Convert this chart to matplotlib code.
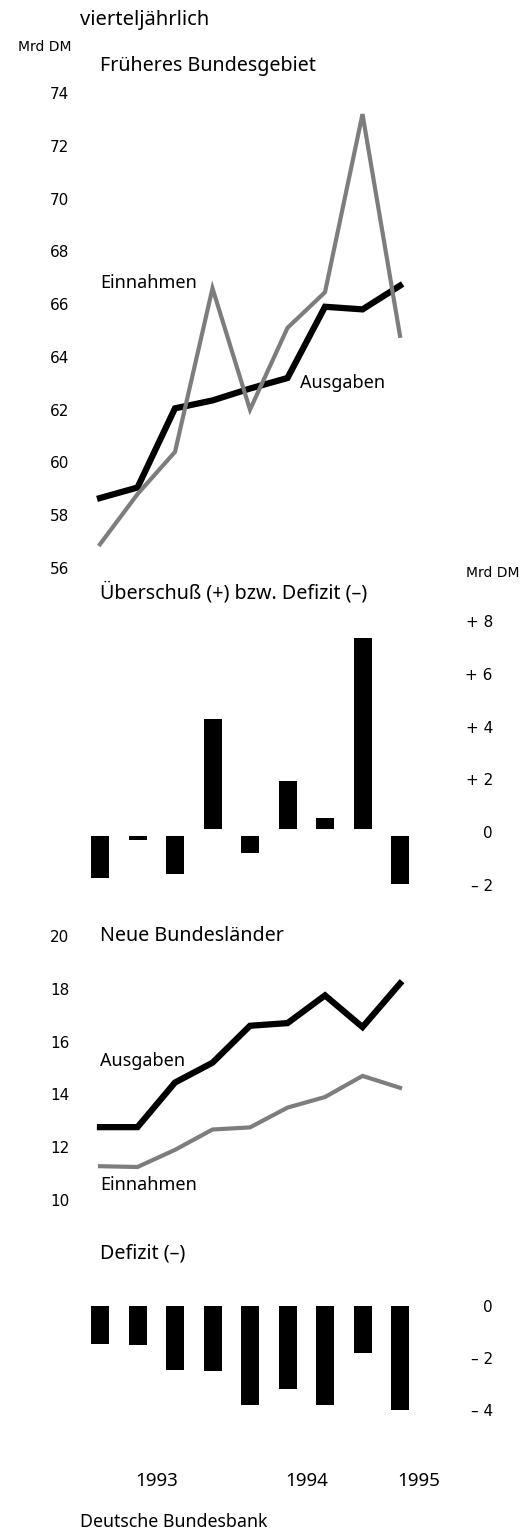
import numpy as np
import matplotlib.pyplot as plt

# Quartale 1993 Q1 bis 1995 Q1
quartale = np.arange(9)
west_einnahmen = [56.9, 58.8, 60.4, 66.6, 62.0, 65.1, 66.45, 73.2, 64.8]
west_ausgaben = [58.65, 59.05, 62.05, 62.35, 62.8, 63.2, 65.9, 65.8, 66.7]
west_saldo = [-1.75, -0.3, -1.6, 4.3, -0.8, 1.95, 0.55, 7.35, -1.95]
ost_einnahmen = [11.28, 11.25, 11.9, 12.67, 12.75, 13.5, 13.9, 14.7, 14.25]
ost_ausgaben = [12.76, 12.76, 14.45, 15.2, 16.6, 16.7, 17.75, 16.55, 18.2]
ost_defizit = [-1.45, -1.5, -2.45, -2.5, -3.8, -3.2, -3.8, -1.8, -4.0]
jahre = ['1993', '1994', '1995']
jahr_pos = [1.5, 5.5, 8.5]

W, H = 525, 1529
plt.rcParams['font.family'] = ['Noto Sans', 'DejaVu Sans']
schmal = ['Liberation Sans Narrow', 'DejaVu Sans']
grau = '#7d7d7d'

fig = plt.figure(figsize=(W / 100, H / 100), dpi=100)

L, R = 72, 440
x0, dx = 100, 37.5


def achse(top, bottom):
    ax = fig.add_axes([L / W, 1 - bottom / H, (R - L) / W, (bottom - top) / H])
    ax.set_xlim((L - x0) / dx, (R - x0) / dx)
    for s in ax.spines.values():
        s.set_visible(False)
    ax.set_xticks([])
    ax.tick_params(length=0)
    return ax


def links_ticks(ax, ticks):
    ax.set_yticks(ticks)
    ax.set_yticklabels([str(t) for t in ticks], family=schmal, fontsize=11)
    ax.tick_params(axis='y', pad=2)


def rechts_ticks(ax, ticks, labels):
    ax.yaxis.tick_right()
    ax.set_yticks(ticks)
    ax.set_yticklabels(labels, family=schmal, fontsize=11, ha='right')
    ax.tick_params(axis='y', pad=38)


def ftext(x, y, s, **kw):
    fig.text(x / W, 1 - y / H, s, va='center', **kw)


# Früheres Bundesgebiet
ax1 = achse(93, 568)
ax1.set_ylim(56, 74)
links_ticks(ax1, [56, 58, 60, 62, 64, 66, 68, 70, 72, 74])
ax1.plot(quartale, west_ausgaben, color='black', lw=4.5, solid_joinstyle='miter', zorder=2)
ax1.plot(quartale, west_einnahmen, color=grau, lw=3, solid_joinstyle='miter', zorder=3)
ax1.text(0, 66.8, 'Einnahmen', fontsize=13, va='center')
ax1.text(5.33, 63.0, 'Ausgaben', fontsize=13, va='center')

# Überschuss / Defizit West
ax2 = achse(621, 885)
ax2.set_ylim(-2, 8)
rechts_ticks(ax2, [-2, 0, 2, 4, 6, 8], ['\u2013 2', '0', '+ 2', '+ 4', '+ 6', '+ 8'])
ax2.bar(quartale, west_saldo, width=0.48, color='black', clip_on=False)
ax2.axhline(0, color='white', lw=5)

# Neue Bundesländer
ax3 = achse(936, 1200)
ax3.set_ylim(10, 20)
links_ticks(ax3, [10, 12, 14, 16, 18, 20])
ax3.plot(quartale, ost_ausgaben, color='black', lw=4.5, solid_joinstyle='miter')
ax3.plot(quartale, ost_einnahmen, color=grau, lw=3, solid_joinstyle='miter')
ax3.text(0, 15.27, 'Ausgaben', fontsize=13, va='center')
ax3.text(0, 10.57, 'Einnahmen', fontsize=13, va='center')

# Defizit Ost
ax4 = achse(1306, 1410)
ax4.set_ylim(-4, 0)
rechts_ticks(ax4, [-4, -2, 0], ['\u2013 4', '\u2013 2', '0'])
ax4.bar(quartale, ost_defizit, width=0.48, color='black', clip_on=False)
ax4.set_xticks(jahr_pos)
ax4.set_xticklabels(jahre, fontsize=13.5)
ax4.tick_params(axis='x', pad=45)

ftext(80, 20, 'vierteljährlich', fontsize=14.5)
ftext(71, 47, 'Mrd DM', family=schmal, fontsize=10, ha='right')
ftext(100, 66, 'Früheres Bundesgebiet', fontsize=14.2)
ftext(100, 593, 'Überschuß (+) bzw. Defizit (\u2013)', fontsize=14.2)
ftext(520, 573, 'Mrd DM', family=schmal, fontsize=10, ha='right')
ftext(100, 936, 'Neue Bundesländer', fontsize=14.2)
ftext(100, 1253, 'Defizit (\u2013)', fontsize=14.2)
ftext(80, 1522, 'Deutsche Bundesbank', fontsize=12.8)

fig.savefig('out.png', dpi=100)
